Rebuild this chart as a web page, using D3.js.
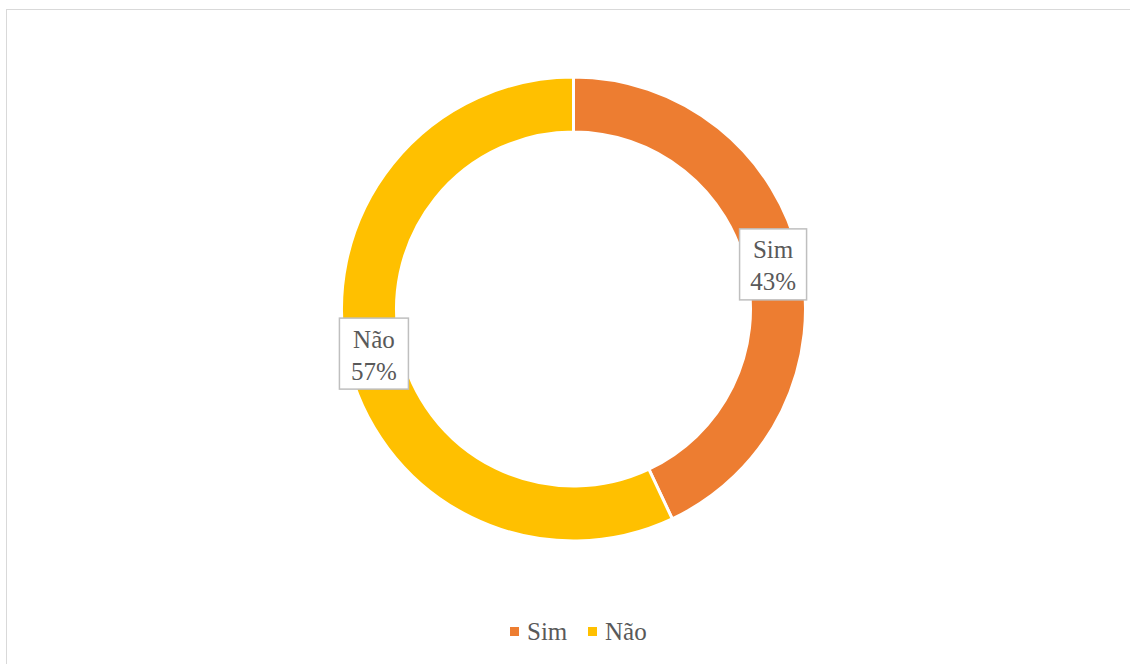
<!DOCTYPE html>
<html><head><meta charset="utf-8">
<script src="https://cdn.jsdelivr.net/npm/d3@7"></script>
<style>body{margin:0;background:#fff}svg{display:block}text{font-family:"Liberation Serif","Times New Roman",Times,serif}</style>
</head><body>
<svg id="c" width="1130" height="664"></svg>
<script>
const categories = ["Sim", "Não"];
const values = [43, 57];
const colors = ["#ED7D31", "#FFC000"];

const svg = d3.select("#c");
svg.append("rect").attr("x", 6.5).attr("y", 9.5).attr("width", 1140).attr("height", 700)
  .attr("fill", "#fff").attr("stroke", "#d9d9d9").attr("stroke-width", 1);

const cx = 573.5, cy = 309, R = 232, r = 177;
const total = d3.sum(values);
const pie = d3.pie().sort(null).value(d => d.v);
const arcs = pie(categories.map((c, i) => ({c, v: values[i], col: colors[i]})));
const arc = d3.arc().innerRadius(r).outerRadius(R);
const g = svg.append("g").attr("transform", `translate(${cx},${cy})`);
g.selectAll("path").data(arcs).enter().append("path")
  .attr("d", arc).attr("fill", d => d.data.col)
  .attr("stroke", "#fff").attr("stroke-width", 3);

const labelArc = d3.arc().innerRadius((R + r) / 2).outerRadius((R + r) / 2);
const fs = 25;
const lg = g.selectAll("g.lab").data(arcs).enter().append("g")
  .attr("transform", d => { const [x, y] = labelArc.centroid(d); return `translate(${x},${y})`; });
lg.append("rect")
  .attr("x", d => d.data.c === "Sim" ? -33.5 : -34.5).attr("y", -35.5)
  .attr("width", d => d.data.c === "Sim" ? 67 : 69).attr("height", 71)
  .attr("fill", "#fff").attr("stroke", "#bfbfbf").attr("stroke-width", 1.5);
lg.append("text").attr("text-anchor", "middle").attr("y", -6)
  .attr("font-size", fs).attr("fill", "#595959")
  .text(d => d.data.c);
lg.append("text").attr("text-anchor", "middle").attr("y", 26)
  .attr("font-size", fs).attr("fill", "#595959")
  .text(d => Math.round(d.data.v / total * 100) + "%");

// legend
const leg = svg.append("g");
const legX = [510, 588];
categories.forEach((c, i) => {
  leg.append("rect").attr("x", legX[i]).attr("y", 627).attr("width", 9).attr("height", 9).attr("fill", colors[i]);
  leg.append("text").attr("x", legX[i] + 17).attr("y", 640)
    .attr("font-size", fs).attr("fill", "#595959").text(c);
});
</script>
</body></html>
